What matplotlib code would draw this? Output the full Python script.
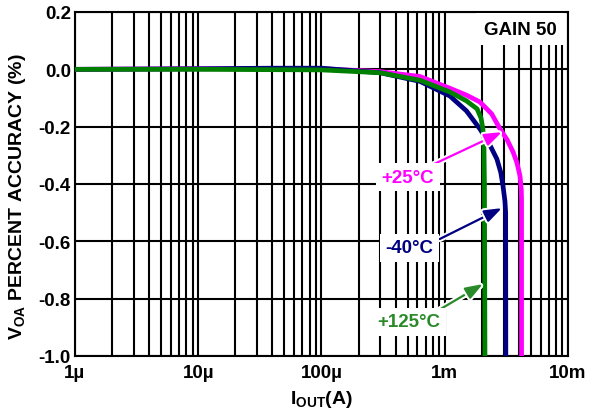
"""
VOA percent accuracy vs output current, gain 50, three temperatures.
"""

import matplotlib
matplotlib.use('Agg')
import matplotlib.pyplot as plt
import matplotlib.patheffects as pe
from matplotlib.ticker import FixedLocator, LogLocator, NullFormatter

plt.rcParams['font.family'] = ['Liberation Sans', 'DejaVu Sans']
plt.rcParams['mathtext.fontset'] = 'custom'
plt.rcParams['mathtext.rm'] = 'Liberation Sans'
plt.rcParams['mathtext.bf'] = 'Liberation Sans:bold'

# +25°C (magenta)
i_25 = [1e-6, 1e-5, 1e-4, 3e-4, 6.3e-4, 1.1e-3, 1.5e-3, 1.93e-3, 2.4e-3,
        2.81e-3, 3.2e-3, 3.58e-3, 3.85e-3, 4.08e-3, 4.18e-3, 4.2e-3, 4.2e-3]
v_25 = [0.0, 0.002, 0.002, -0.008, -0.025, -0.066, -0.09, -0.114, -0.155,
        -0.208, -0.245, -0.288, -0.325, -0.372, -0.42, -0.46, -1.0]

# -40°C (navy)
i_m40 = [1e-6, 1e-5, 4e-5, 1e-4, 3e-4, 6.3e-4, 1.1e-3, 1.5e-3, 1.93e-3,
         2.3e-3, 2.65e-3, 2.85e-3, 2.97e-3, 3.08e-3, 3.12e-3, 3.13e-3]
v_m40 = [0.0, 0.002, 0.004, 0.004, -0.012, -0.042, -0.093, -0.145, -0.208,
         -0.26, -0.313, -0.36, -0.407, -0.46, -0.5, -1.0]

# +125°C (green)
i_125 = [1e-6, 1e-5, 1e-4, 3e-4, 6.3e-4, 1.1e-3, 1.5e-3, 1.83e-3, 1.97e-3,
         2.04e-3, 2.08e-3, 2.1e-3, 2.12e-3]
v_125 = [0.0, 0.0, -0.002, -0.012, -0.038, -0.079, -0.11, -0.138, -0.17,
         -0.208, -0.27, -0.4, -1.0]

x_ticks = [1e-6, 1e-5, 1e-4, 1e-3, 1e-2]
x_labels = ['1µ', '10µ', '100µ', '1m', '10m']
y_ticks = [-1.0, -0.8, -0.6, -0.4, -0.2, 0.0, 0.2]
y_labels = ['-1.0', '-0.8', '-0.6', '-0.4', '-0.2', '0.0', '0.2']

MAGENTA = '#FF00FF'
NAVY = '#000080'
GREEN = '#008000'

fig = plt.figure(figsize=(5.9, 4.14), dpi=100)
ax = fig.add_axes([0.1271, 0.1377, 0.8356, 0.8309])

ax.plot(i_25, v_25, color=MAGENTA, lw=3.4, zorder=3, solid_capstyle='butt')
ax.plot(i_m40, v_m40, color=NAVY, lw=3.4, zorder=3, solid_capstyle='butt')
ax.plot(i_125, v_125, color=GREEN, lw=3.4, zorder=3, solid_capstyle='butt')

ax.set_xscale('log')
ax.set_xlim(1e-6, 1e-2)
ax.set_ylim(-1.0, 0.2)
ax.xaxis.set_major_locator(FixedLocator(x_ticks))
ax.set_xticklabels(x_labels)
ax.xaxis.set_minor_locator(LogLocator(base=10, subs=range(2, 10)))
ax.xaxis.set_minor_formatter(NullFormatter())
ax.set_yticks(y_ticks)
ax.set_yticklabels(y_labels)

ax.grid(True, which='both', color='black', lw=1.5, zorder=1)
ax.set_axisbelow(True)
for s in ax.spines.values():
    s.set_linewidth(1.5)
ax.tick_params(which='both', length=0)
ax.tick_params(axis='x', pad=6, labelsize=13.5)
ax.tick_params(axis='y', pad=3, labelsize=13.5)
for lab in ax.get_xticklabels() + ax.get_yticklabels():
    lab.set_fontweight('bold')

ax.set_ylabel(r'$\mathbf{V_{OA}}$ PERCENT ACCURACY (%)', fontsize=14,
              fontweight='bold')
ax.yaxis.set_label_coords(-0.095, 0.465)
ax.set_xlabel(r'$\mathbf{I_{OUT}(A)}$', fontsize=14, fontweight='bold',
              labelpad=5)

ax.text(0.903, 0.95, 'GAIN 50', transform=ax.transAxes, ha='center',
        va='center', fontsize=13.5, fontweight='bold', zorder=4,
        bbox=dict(boxstyle='square,pad=0.4', fc='white', ec='none'))

# label text, colour, arrow tip, arrow tail, label centre
halo = [pe.withStroke(linewidth=4.5, foreground='white')]
notes = [
    ('+25°C', MAGENTA, (2.91e-3, -0.219), (7.6e-4, -0.337), (5.0e-4, -0.376)),
    ('-40°C', NAVY, (2.91e-3, -0.484), (9.1e-4, -0.592), (5.2e-4, -0.623)),
    ('+125°C', '#2a8a2a', (2.04e-3, -0.749), (8.7e-4, -0.843), (5.1e-4, -0.881)),
]
for text, col, tip, tail, centre in notes:
    ax.annotate('', xy=tip, xytext=tail, zorder=5,
                arrowprops=dict(arrowstyle='-|>,head_length=0.7,head_width=0.25',
                                color=col, lw=1.6, mutation_scale=15,
                                shrinkA=0, shrinkB=0, path_effects=halo))
    ax.text(centre[0], centre[1], text, color=col, fontsize=13.5,
            fontweight='bold', ha='center', va='center', zorder=6,
            bbox=dict(boxstyle='square,pad=0.3', fc='white', ec='none'))

fig.savefig('out.png', dpi=100)
